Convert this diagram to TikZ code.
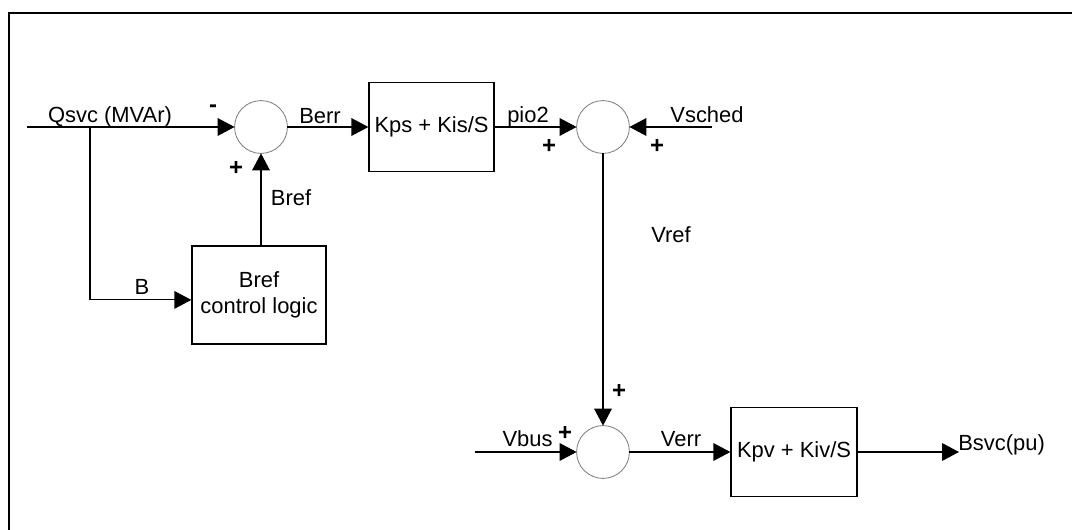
\documentclass[tikz,border=0pt]{standalone}
\usepackage{fontspec}
\setmainfont{Liberation Sans}
\usepackage{tikz}
\usetikzlibrary{arrows.meta}

\begin{document}
\begin{tikzpicture}[x=0.025cm, y=-0.025cm,
  font=\fontsize{15.6}{18.4}\selectfont,
  blk/.style={draw, line width=0.9pt, inner sep=0pt, align=center},
  sumpt/.style={circle, draw=black!50, line width=0.6pt, minimum size=1.32cm, inner sep=0pt, outer sep=0pt},
  sig/.style={line width=0.8pt, -{Triangle[length=12pt, width=12.5pt]}},
  sgn/.style={font=\fontsize{17}{17}\selectfont\bfseries, inner sep=0pt}]
\useasboundingbox (0,0) rectangle (1072,530);
\draw[line width=1.4pt] (9,530) -- (9,13) -- (1072,13);
% blocks and summing points
\node[sumpt] (s1) at (261,127) {};
\node[sumpt] (s2) at (603,127) {};
\node[sumpt] (s3) at (603,452) {};
\node[blk, minimum width=3.125cm, minimum height=2.225cm] (kps) at (431.5,127) {Kps + Kis/S};
\node[blk, minimum width=3.35cm, minimum height=2.45cm] (bctl) at (259,295) {Bref\\control logic};
\node[blk, minimum width=3.15cm, minimum height=2.225cm] (kpv) at (794,452) {Kpv + Kiv/S};
% free line ends
\coordinate (qin) at (27,127);
\coordinate (tap) at (90,127);
\coordinate (vsin) at (712,127);
\coordinate (vbin) at (475,452);
\coordinate (bout) at (959,452);
% signals
\draw[sig] (qin) -- (s1);
\draw[sig] (tap) |- ([yshift=-3.5pt]bctl.west);
\draw[sig] (bctl.north -| s1) -- (s1);
\draw[sig] (s1) -- (kps);
\draw[sig] (kps) -- (s2);
\draw[sig] (vsin) -- (s2);
\draw[sig] (s2) -- (s3);
\draw[sig] (vbin) -- (s3);
\draw[sig] (s3) -- (kpv);
\draw[sig] (kpv) -- (bout);
% labels
\node[anchor=base] (qlbl) at (110,123) {Qsvc (MVAr)};
\node[sgn] (m1) at (213,109) {-};
\node[sgn] (p1) at (236,168) {+};
\node[anchor=base] (berr) at (320,124) {Berr};
\node[anchor=base] (breflbl) at (291,206) {Bref};
\node[anchor=base] (blbl) at (142,295) {B};
\node[anchor=base] (pio) at (528,123) {pio2};
\node[sgn] (p2) at (549,146) {+};
\node[anchor=base] (vsched) at (707,123) {Vsched};
\node[sgn] (p3) at (657,146) {+};
\node[anchor=base] (vref) at (671,243) {Vref};
\node[sgn] (p4) at (619,391) {+};
\node[anchor=base] (vbus) at (527.5,447) {Vbus};
\node[sgn] (p5) at (565,433) {+};
\node[anchor=base] (verr) at (681,447) {Verr};
\node[anchor=base west, inner sep=0pt] (bsvc) at (958,450) {Bsvc(pu)};
\end{tikzpicture}
\end{document}
